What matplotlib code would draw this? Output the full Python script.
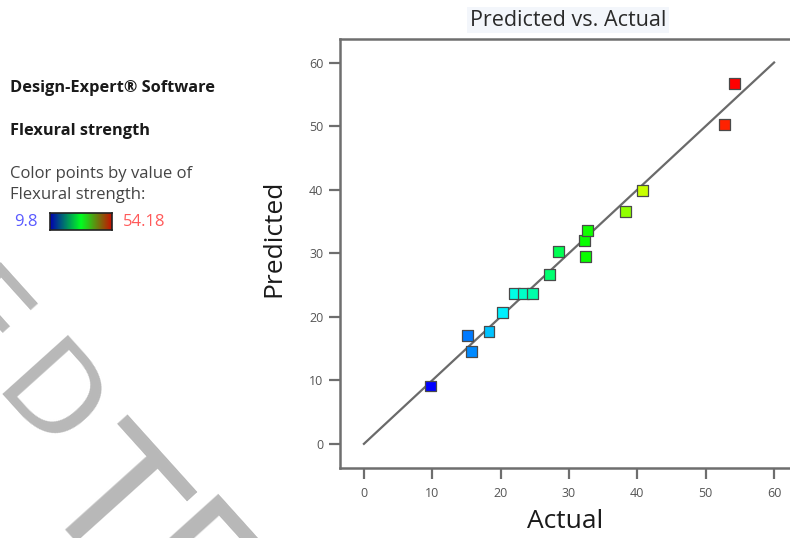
import numpy as np
import matplotlib
matplotlib.use("Agg")
import matplotlib.pyplot as plt
from matplotlib.colors import LinearSegmentedColormap, hsv_to_rgb

plt.rcParams['font.family'] = ['Open Sans', 'DejaVu Sans']

# Data: actual vs predicted flexural strength
actual = [9.8, 15.1, 15.8, 18.3, 20.3, 22.0, 23.3, 24.6, 27.1, 28.4,
          32.4, 32.3, 32.7, 38.3, 40.7, 52.7, 54.18]
predicted = [9.1, 17.0, 14.5, 17.7, 20.7, 23.6, 23.6, 23.6, 26.6, 30.2,
             29.5, 32.0, 33.5, 36.5, 39.9, 50.3, 56.7]
ticks = [0, 10, 20, 30, 40, 50, 60]
vmin, vmax = 9.8, 54.18

# colour points by value: hue goes blue -> red
act = np.array(actual)
frac = (act - vmin) / (vmax - vmin)
hsv = np.stack([(240 - 240 * frac) / 360, np.ones_like(frac), np.ones_like(frac)], axis=1)
point_colors = hsv_to_rgb(hsv)

fig = plt.figure(figsize=(7.9, 5.38), dpi=100)
W, H = 790, 538

# ---- watermark letters (partly outside the picture, as in the reference) ----
wm_letters = ['E', 'D', 'T', 'E']
wm_origin = [(-78, 320), (-11, 393), (35, 496), (108, 576)]
wm_size = [87, 87, 122, 122]
for ch, (px, py), fs in zip(wm_letters, wm_origin, wm_size):
    fig.text(px / W, 1 - py / H, ch, fontsize=fs, color='#b8b8b8',
             rotation=-48, rotation_mode='anchor', ha='left', va='baseline',
             family='DejaVu Sans', zorder=0)

# ---- main axes ----
ax = fig.add_axes([340 / W, 70 / H, 458 / W, 429 / H])
ax.set_xlim(-3.5, 63.5)
ax.set_ylim(-3.8, 63.7)

ax.plot([0, 60], [0, 60], color='#6a6a6a', lw=1.6, zorder=2)
ax.scatter(actual, predicted, marker='s', s=62, c=point_colors,
           edgecolors='#4a4a4a', linewidths=0.9, zorder=3)

for side in ['left', 'bottom', 'top', 'right']:
    ax.spines[side].set_color('#6e6e6e')
    ax.spines[side].set_linewidth(1.8)

ax.set_xticks(ticks)
ax.set_yticks(ticks)
ax.tick_params(direction='out', length=8, width=1.6, color='#6e6e6e',
               labelsize=9, labelcolor='#555555')
ax.tick_params(axis='y', pad=4)
ax.tick_params(axis='x', pad=6)

ax.set_xlabel('Actual', fontsize=19, color='#1a1a1a', va='center')
ax.set_ylabel('Predicted', fontsize=19, color='#1a1a1a', va='center')
ax.xaxis.set_label_coords((565 - 340) / 458, (468 - 522) / 429)
ax.yaxis.set_label_coords((274 - 340) / 458, (468 - 238) / 429)

fig.text(568 / W, 1 - 20 / H, 'Predicted vs. Actual', fontsize=15.5, color='#2a2a2a',
         ha='center', va='center',
         bbox=dict(facecolor='#f3f6fb', edgecolor='none', pad=2))

# ---- left legend text ----
fig.text(10 / W, 1 - 88 / H, 'Design-Expert® Software', fontsize=11.8,
         fontweight='bold', color='#1a1a1a', va='center')
fig.text(10 / W, 1 - 131 / H, 'Flexural strength', fontsize=11.8,
         fontweight='bold', color='#1a1a1a', va='center')
fig.text(10 / W, 1 - 174 / H, 'Color points by value of', fontsize=12,
         color='#444444', va='center')
fig.text(10 / W, 1 - 195 / H, 'Flexural strength:', fontsize=12,
         color='#444444', va='center')
fig.text(38 / W, 1 - 222 / H, f'{vmin:g}', fontsize=12, color='#5a5aff',
         ha='right', va='center')
fig.text(123 / W, 1 - 222 / H, f'{vmax:g}', fontsize=12, color='#ff5a5a',
         ha='left', va='center')

cax = fig.add_axes([50 / W, 1 - 230 / H, 62 / W, 17 / H])
bar_cmap = LinearSegmentedColormap.from_list('bar', ['#0000b0', '#00ff20', '#c81000'])
cax.imshow(np.linspace(0, 1, 200).reshape(1, -1), aspect='auto', cmap=bar_cmap)
cax.set_xticks([])
cax.set_yticks([])
for s in cax.spines.values():
    s.set_color('#222222')
    s.set_linewidth(1.2)

fig.savefig('out.png', dpi=100)
